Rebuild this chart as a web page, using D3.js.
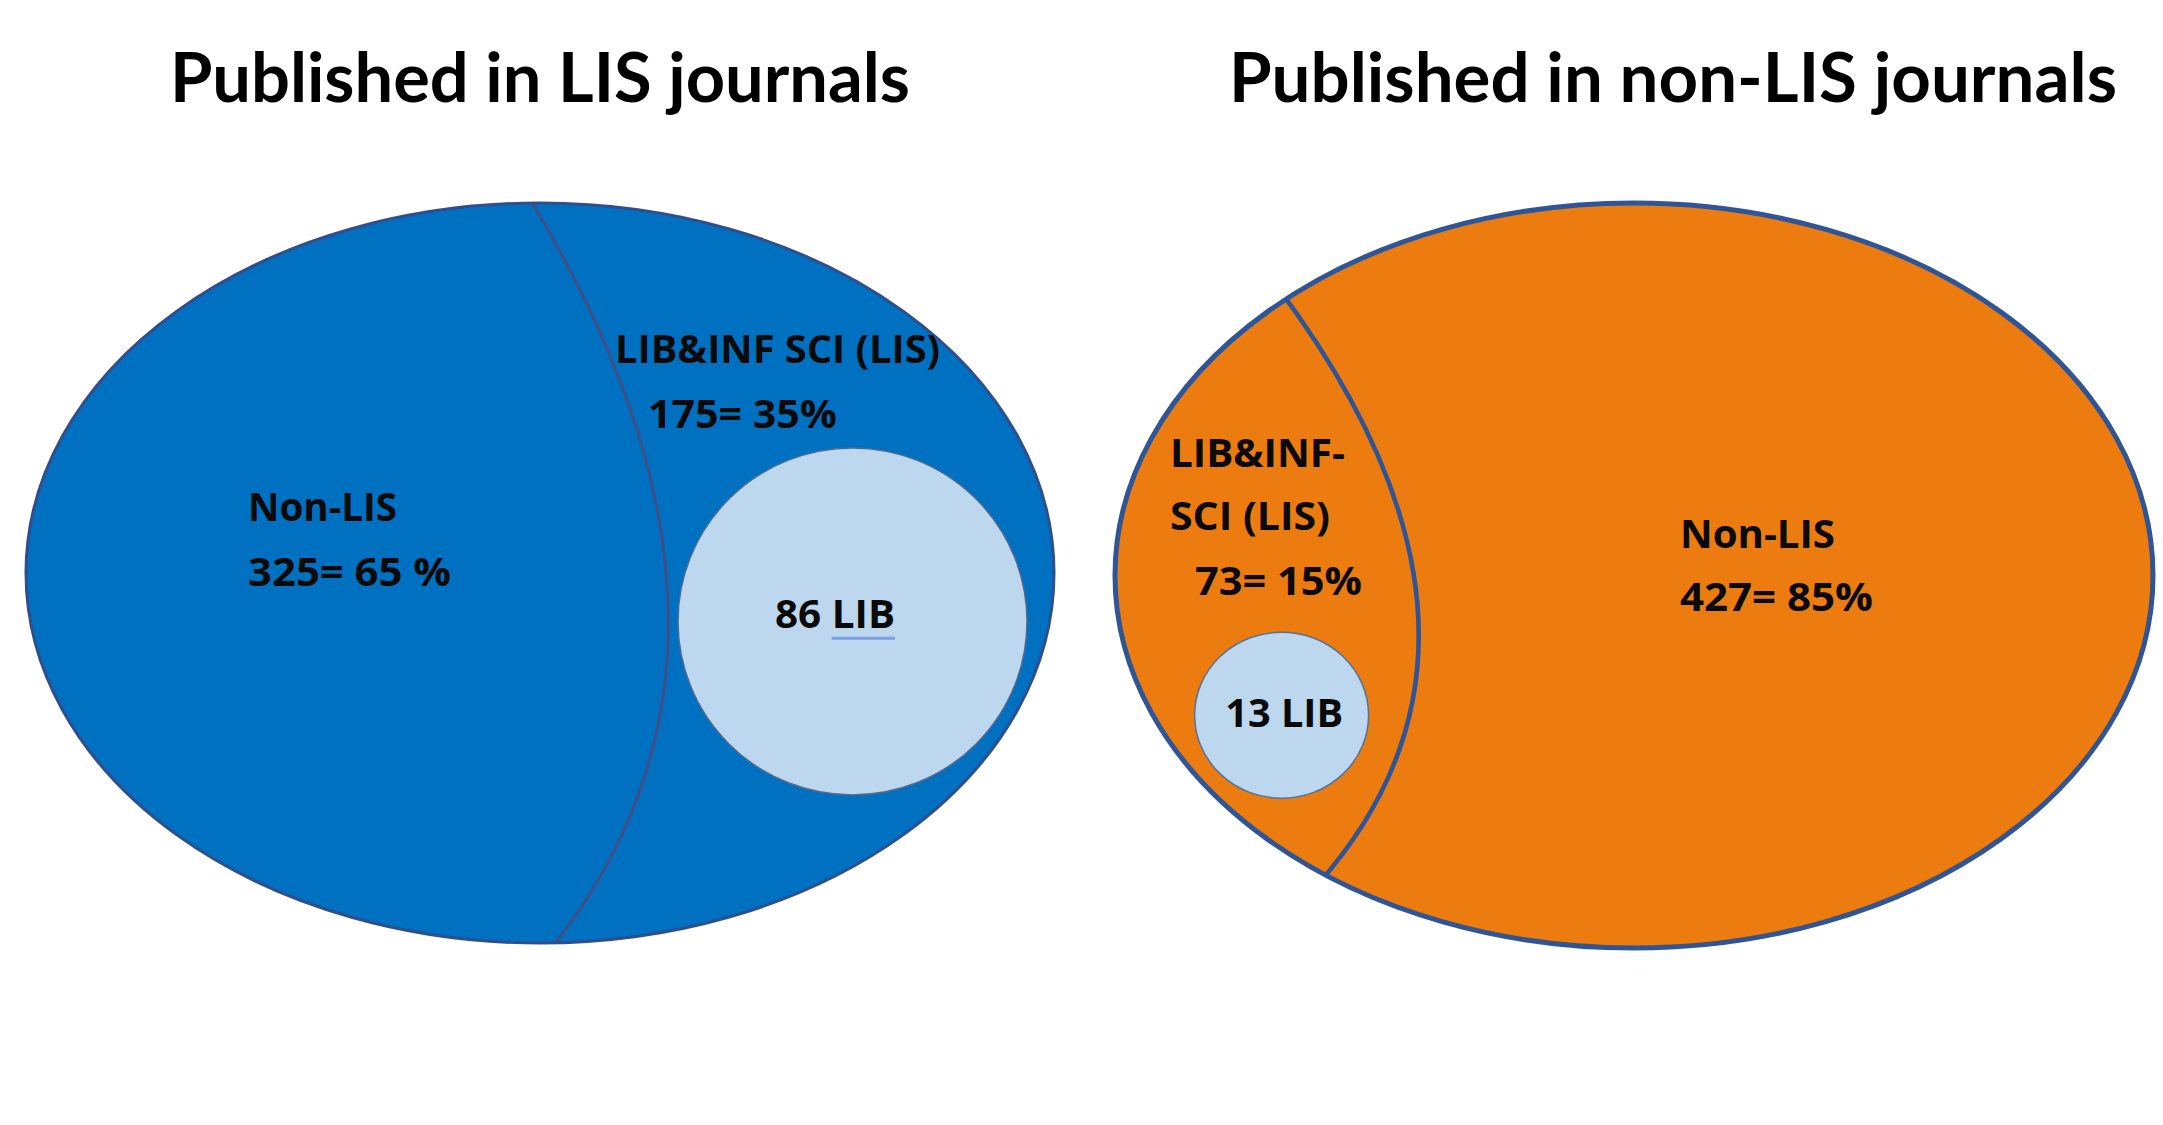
<!DOCTYPE html>
<html>
<head>
<meta charset="utf-8">
<script src="https://cdn.jsdelivr.net/npm/d3@7"></script>
<style>
  html, body { margin: 0; padding: 0; background: #ffffff; }
  svg { display: block; }
</style>
</head>
<body>
<svg id="chart" width="2163" height="1125"></svg>
<script>
// ---------------- DATA ----------------
const panelTitles   = ["Published in LIS journals", "Published in non-LIS journals"];
const nonLisLabels  = ["Non-LIS", "Non-LIS"];
const nonLisCounts  = [325, 427];
const nonLisPct     = [65, 85];
const pctSpacing    = [" ", ""];           // "65 %" vs "85%" as written in the figure
const lisLabelLines = [["LIB&INF SCI (LIS)"], ["LIB&INF-", "SCI (LIS)"]];
const lisCounts     = [175, 73];
const lisPct        = [35, 15];
const libCounts     = [86, 13];
const libLabel      = "LIB";

// ---------------- LAYOUT (geometry & style, not data) ----------------
const W = 2163, H = 1125;
const layout = [
  { // left panel
    xr: [26, 1054], yr: [203, 943],
    fill: "#0070C0", stroke: "#2E4E8E", strokeW: 3,
    divider: { p0: [-0.015, -1.0], c: [0.491, 0.173], p2: [0.03, 1.0], stroke: "#3E4F88", w: 3 },
    lib: { c: [0.608, 0.131], rx: 0.3395, ry: 0.469, stroke: "#4F6A92", w: 1.5 },
    title: { x: 170, y: 102, len: 740 },
    nonLis: { x: -0.568, y: -0.1405, dy: 0.1755, len: [149, 203] },
    lis:    { x: 0.146, y: -0.568, lineDy: 0.17, valX: 0.210, valY: -0.392, len: [325], valLen: 189 },
    libText:{ x: 0.574, y: 0.149, len: 120 , underline: true}
  },
  { // right panel
    xr: [1115, 2153], yr: [203, 948],
    fill: "#EC7C10", stroke: "#2F5597", strokeW: 5,
    divider: { p0: [-0.69, -0.78], c: [-0.183, 0.161], p2: [-0.61, 0.83], stroke: "#2F5597", w: 4.5 },
    lib: { c: [-0.679, 0.375], rx: 0.1676, ry: 0.2228, stroke: "#55729C", w: 1.5 },
    title: { x: 1229, y: 102, len: 888 },
    nonLis: { x: 0.0886, y: -0.074, dy: 0.169, len: [155, 193] },
    lis:    { x: -0.894, y: -0.291, lineDy: 0.169, valX: -0.846, valY: 0.052, len: [175, 160], valLen: 167 },
    libText:{ x: -0.674, y: 0.406, len: 118, underline: false }
  }
];

const svg = d3.select("#chart");
svg.append("rect").attr("width", W).attr("height", H).attr("fill", "#ffffff");

const labelFont = "'Open Sans', 'Noto Sans', sans-serif";
const titleFont = "Lato, 'Open Sans', sans-serif";

panelTitles.forEach((title, i) => {
  const L = layout[i];
  const x = d3.scaleLinear().domain([-1, 1]).range(L.xr);
  const y = d3.scaleLinear().domain([-1, 1]).range(L.yr);
  const sx = v => Math.abs(x(v) - x(0));
  const sy = v => Math.abs(y(v) - y(0));

  const g = svg.append("g").attr("class", "panel-" + i);

  // title
  g.append("text")
    .attr("x", L.title.x).attr("y", L.title.y)
    .attr("font-family", titleFont).attr("font-weight", 700)
    .attr("font-size", 68).attr("fill", "#000")
    .attr("textLength", L.title.len).attr("lengthAdjust", "spacingAndGlyphs")
    .text(title);

  // clip to ellipse
  const clipId = "clip-" + i;
  g.append("clipPath").attr("id", clipId)
    .append("ellipse")
    .attr("cx", x(0)).attr("cy", y(0)).attr("rx", sx(1)).attr("ry", sy(1));

  // outer ellipse fill
  g.append("ellipse")
    .attr("cx", x(0)).attr("cy", y(0)).attr("rx", sx(1)).attr("ry", sy(1))
    .attr("fill", L.fill);

  // divider curve
  const d = L.divider;
  const p = d3.path();
  p.moveTo(x(d.p0[0]), y(d.p0[1]));
  p.quadraticCurveTo(x(d.c[0]), y(d.c[1]), x(d.p2[0]), y(d.p2[1]));
  g.append("path")
    .attr("d", p.toString())
    .attr("fill", "none")
    .attr("stroke", d.stroke).attr("stroke-width", d.w)
    .attr("clip-path", `url(#${clipId})`);

  // LIB circle
  g.append("ellipse")
    .attr("cx", x(L.lib.c[0])).attr("cy", y(L.lib.c[1]))
    .attr("rx", sx(L.lib.rx)).attr("ry", sy(L.lib.ry))
    .attr("fill", "#BDD7EE")
    .attr("stroke", L.lib.stroke).attr("stroke-width", L.lib.w);

  // outer ellipse outline
  g.append("ellipse")
    .attr("cx", x(0)).attr("cy", y(0)).attr("rx", sx(1)).attr("ry", sy(1))
    .attr("fill", "none")
    .attr("stroke", L.stroke).attr("stroke-width", L.strokeW);

  const lbl = (tx, ty, str, len, anchor) => {
    const t = g.append("text")
      .attr("x", tx).attr("y", ty)
      .attr("font-family", labelFont).attr("font-weight", 700)
      .attr("font-size", 39).attr("fill", "#0a0a0a")
      .attr("text-anchor", anchor || "start")
      .text(str);
    if (len) t.attr("textLength", len).attr("lengthAdjust", "spacingAndGlyphs");
    return t;
  };

  // Non-LIS labels
  lbl(x(L.nonLis.x), y(L.nonLis.y), nonLisLabels[i], L.nonLis.len[0]);
  lbl(x(L.nonLis.x), y(L.nonLis.y + L.nonLis.dy),
      `${nonLisCounts[i]}= ${nonLisPct[i]}${pctSpacing[i]}%`, L.nonLis.len[1]);

  // LIS labels
  lisLabelLines[i].forEach((line, k) => {
    lbl(x(L.lis.x), y(L.lis.y + k * L.lis.lineDy), line, L.lis.len[k]);
  });
  lbl(x(L.lis.valX), y(L.lis.valY), `${lisCounts[i]}= ${lisPct[i]}%`, L.lis.valLen);

  // LIB label
  const libStr = `${libCounts[i]} ${libLabel}`;
  const lt = lbl(x(L.libText.x), y(L.libText.y), libStr, L.libText.len, "middle");
  if (L.libText.underline) {
    const node = lt.node();
    const total = L.libText.len;
    const natural = node.getComputedTextLength();
    const k = total / natural;
    const prefix = String(libCounts[i]).length + 1;
    const startLen = node.getSubStringLength(0, prefix) * k;
    const x0 = x(L.libText.x) - total / 2 + startLen;
    g.append("line")
      .attr("x1", x0).attr("x2", x(L.libText.x) + total / 2)
      .attr("y1", y(L.libText.y) + 10).attr("y2", y(L.libText.y) + 10)
      .attr("stroke", "#7DA0E6").attr("stroke-width", 3);
  }
});
</script>
</body>
</html>
